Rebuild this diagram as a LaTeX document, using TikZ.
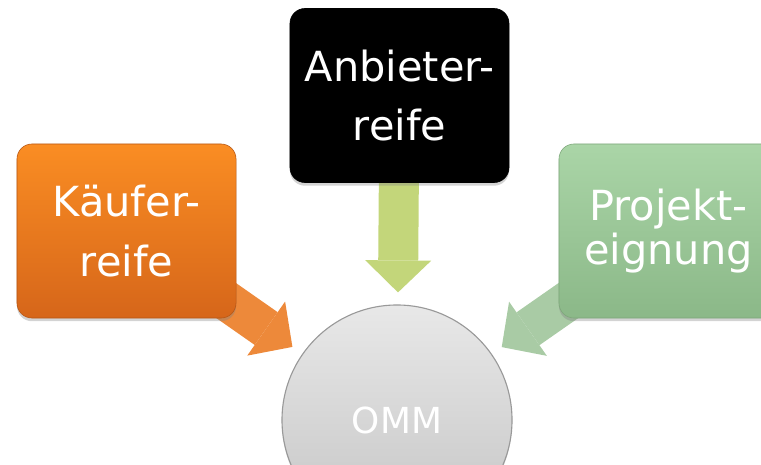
\documentclass[tikz,border=0pt]{standalone}
\usepackage{fontspec}
\setmainfont{DejaVu Sans}
\usetikzlibrary{positioning, arrows.meta, shadows}
\definecolor{kaeuferTop}{RGB}{250,141,35}
\definecolor{kaeuferBot}{RGB}{214,102,26}
\definecolor{kaeuferArrow}{RGB}{237,137,58}
\definecolor{anbieterArrow}{RGB}{195,214,122}
\definecolor{projektTop}{RGB}{170,213,167}
\definecolor{projektBot}{RGB}{139,184,136}
\definecolor{projektArrow}{RGB}{169,203,165}
\definecolor{ommTop}{RGB}{232,232,232}
\definecolor{ommBot}{RGB}{196,196,196}
\pgfdeclarelayer{bg}
\pgfsetlayers{bg,main}
\tikzset{box/.style={rectangle, rounded corners=0.375cm, minimum width=5.475cm,
           minimum height=4.35cm, align=center, text=white,
           font=\fontsize{29.5}{42.5}\selectfont,
           drop shadow={opacity=0.35, shadow xshift=0pt, shadow yshift=-0.08cm}},
         fatarrow/.style={line width=1cm,
           -{Triangle[width=1.65cm, length=0.8cm, line width'=0pt]},
           shorten <=-0.6cm, shorten >=0.3cm}}

\begin{document}
\begin{tikzpicture}[x=0.025cm, y=-0.025cm]

        \useasboundingbox (0,0) rectangle (761,465);
        \clip (0,0) rectangle (761,465);

        % Centre circle
        \node[circle, minimum size=5.75cm, inner sep=0pt, top color=ommTop,
              bottom color=ommBot, draw=gray!80, line width=0.8pt,
              drop shadow={opacity=0.3, shadow xshift=0pt, shadow yshift=-0.06cm},
              text=white, font=\fontsize{25.5}{30}\selectfont] (omm) at (397, 420) {OMM};

        % The three boxes
        \node[box, top color=kaeuferTop, bottom color=kaeuferBot,
              draw=kaeuferBot!85!black] (kaeufer) at (126.5, 231) {Käufer-\\reife};
        \node[box, fill=black, draw=black] (anbieter) at (399.5, 95.5) {Anbieter-\\reife};
        \node[box, top color=projektTop, bottom color=projektBot,
              draw=projektBot!90!black, font=\fontsize{29.5}{31}\selectfont]
              (projekt) at (668.5, 231) {Projekt-\\eignung};

        % Arrows into the circle
        \begin{pgfonlayer}{bg}
        \draw[fatarrow, kaeuferArrow] (kaeufer) -- (omm);
        \draw[fatarrow, anbieterArrow] (anbieter) -- (omm);
        \draw[fatarrow, projektArrow] (projekt) -- (omm);
        \end{pgfonlayer}

    \end{tikzpicture}
\end{document}
